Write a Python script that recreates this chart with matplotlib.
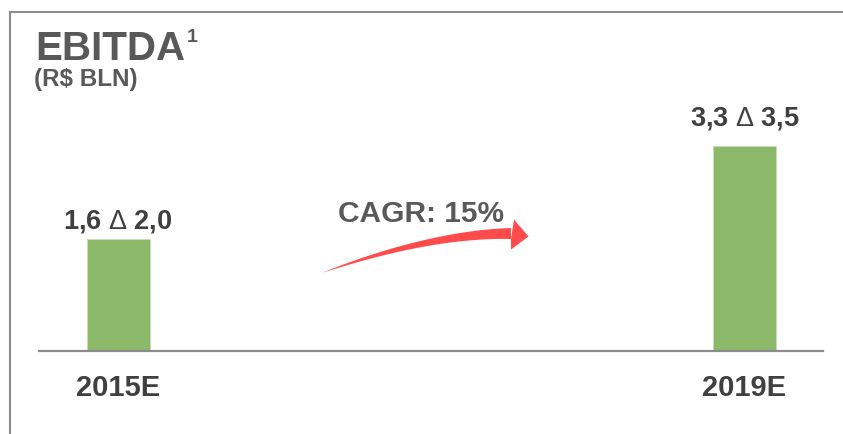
import numpy as np
import matplotlib
matplotlib.use("Agg")
import matplotlib.pyplot as plt
from matplotlib.patches import Polygon
from matplotlib.lines import Line2D

plt.rcParams['font.family'] = ['Liberation Sans', 'DejaVu Sans']
plt.rcParams['mathtext.fontset'] = 'custom'
plt.rcParams['mathtext.rm'] = 'Liberation Sans'
plt.rcParams['mathtext.bf'] = 'Liberation Sans:bold'

# data
years = ["2015E", "2019E"]
low = ["1,6", "3,3"]
high = ["2,0", "3,5"]
bar_values = [1.8, 3.3]
label_offsets = [7.5, 15]  # points above bar top

W, H = 843, 434
fig = plt.figure(figsize=(W / 100, H / 100), dpi=100)

# px helpers (from top-left) -> figure fraction
def fx(x):
    return x / W

def fy(y):
    return (H - y) / H

# main axes: baseline at y=351, x from 39 to 823
ax = fig.add_axes([fx(39), fy(351), fx(823) - fx(39), fy(11) - fy(351)])
scale = 626.5
ax.set_xlim(-(118 - 39) / scale, (823 - 118) / scale)
ax.set_ylim(0, 340 / 62.1)

x = np.arange(len(years))
ax.bar(x, bar_values, width=63 / scale, color='#8CB869', edgecolor='#C9DDB8', linewidth=0.6)

for i in range(len(years)):
    ax.annotate(f"{low[i]} $\\mathrm{{\\Delta}}$ {high[i]}", xy=(x[i], bar_values[i]),
                xytext=(0, label_offsets[i]), textcoords='offset points',
                ha='center', va='baseline', fontsize=19.5, fontweight='bold',
                color='#404040')
    ax.annotate(years[i], xy=(x[i], 0), xytext=(0, -32.4), textcoords='offset points',
                ha='center', va='baseline', fontsize=21, fontweight='bold',
                color='#404040', annotation_clip=False)

for s in ['top', 'right', 'left']:
    ax.spines[s].set_visible(False)
ax.spines['bottom'].set_color('#8C8C8C')
ax.spines['bottom'].set_linewidth(1.6)
ax.set_xticks([])
ax.set_yticks([])
ax.patch.set_alpha(0)

# frame lines
fig.add_artist(Line2D([fx(10), fx(843)], [fy(11.5), fy(11.5)], color='#8C8C8C', lw=1.5))
fig.add_artist(Line2D([fx(10), fx(10)], [fy(11.5), fy(434)], color='#8C8C8C', lw=1.5))

# title
fig.text(fx(35), fy(60), "EBITDA", fontsize=29, fontweight='bold', color='#595959', va='baseline')
fig.text(fx(187), fy(42), "1", fontsize=14, fontweight='bold', color='#595959', va='baseline')
fig.text(fx(34), fy(86), "(R$ BLN)", fontsize=17.5, fontweight='bold', color='#595959', va='baseline')

# CAGR annotation
fig.text(fx(338), fy(222), "CAGR: 15%", fontsize=21.5, fontweight='bold', color='#595959', va='baseline')

# tapered curved arrow
p0 = np.array([323.0, 272.5])
p1 = np.array([430.0, 234.0])
p2 = np.array([511.0, 233.5])
t = np.linspace(0, 1, 60)
pts = ((1 - t) ** 2)[:, None] * p0 + (2 * (1 - t) * t)[:, None] * p1 + (t ** 2)[:, None] * p2
d = (-2 * (1 - t))[:, None] * p0 + (2 * (1 - 2 * t))[:, None] * p1 + (2 * t)[:, None] * p2
d /= np.linalg.norm(d, axis=1)[:, None]
nrm = np.stack([-d[:, 1], d[:, 0]], axis=1)
half = 5.5 * t ** 0.8
upper = pts + nrm * half[:, None]
lower = pts - nrm * half[:, None]
head = np.array([[514, 219.5], [528.5, 236.5], [511, 249.5]])
poly_px = np.vstack([upper, head[:1], head[1:2], head[2:], lower[::-1]])
poly = np.column_stack([poly_px[:, 0] / W, (H - poly_px[:, 1]) / H])
fig.add_artist(Polygon(poly, closed=True, transform=fig.transFigure,
                       facecolor='#FF4B4B', edgecolor='none'))

fig.savefig("out.png", dpi=100)
